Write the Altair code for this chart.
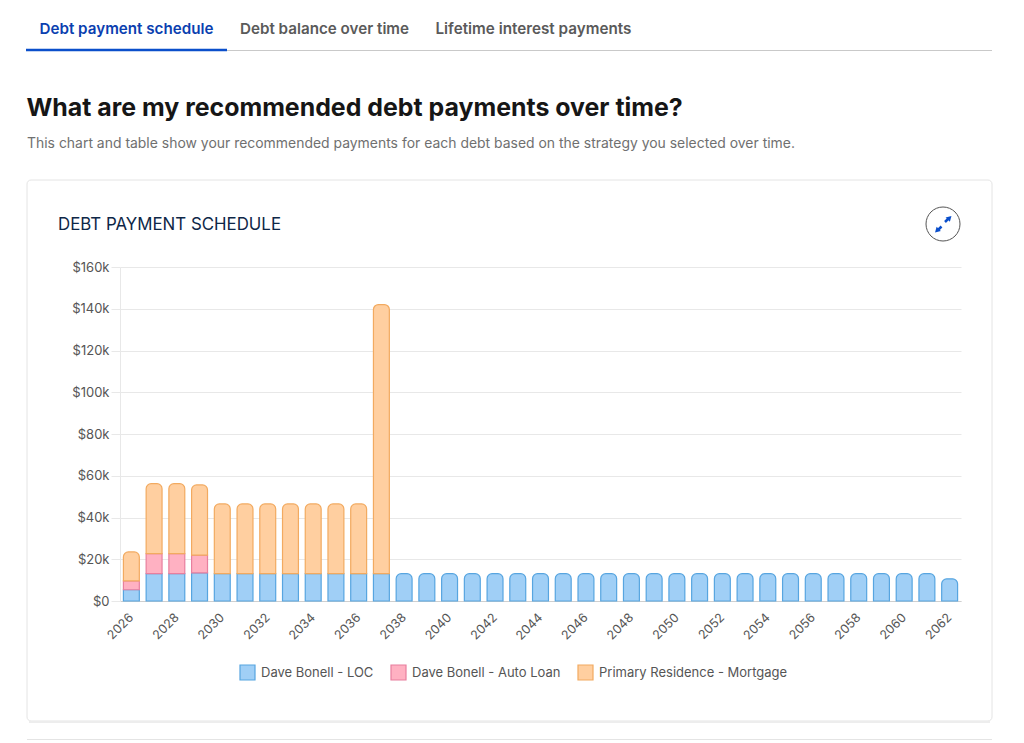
import altair as alt
import pandas as pd

# 차트 데이터 (단위: 달러)
years = list(range(2026, 2063))
loc_payments = [5400, 13100, 13100, 13500] + [13100] * 32 + [10600]
auto_payments = [4200, 9600, 9600, 8500] + [0] * 33
mortgage_payments = [13900, 33500, 33500, 33600] + [33400] * 7 + [128900] + [0] * 25
year_ticks = list(range(2026, 2063, 2))
y_ticks = [0, 20000, 40000, 60000, 80000, 100000, 120000, 140000, 160000]

series_names = ["Dave Bonell - LOC", "Dave Bonell - Auto Loan", "Primary Residence - Mortgage"]
fill_colors = ["#A0CFF6", "#FFB1C2", "#FFCFA0"]
stroke_colors = ["#57A5E0", "#E87F9E", "#F2AA60"]

# 플롯 영역 위치 (페이지 기준)
PLOT_LEFT, PLOT_TOP = 120, 267
PLOT_W, PLOT_H = 841, 334
FONT = "Inter"


def px(x):
    return alt.value(x - PLOT_LEFT)


def py(y):
    return alt.value(y - PLOT_TOP)


def page_text(txt, x, y, size, color, weight=400):
    return alt.Chart(pd.DataFrame({"t": [txt]})).mark_text(
        align="left", baseline="middle", font=FONT, fontSize=size, fontWeight=weight, color=color
    ).encode(x=px(x), y=py(y), text="t:N")


def page_rule(x1, y1, x2, y2, color, width=1):
    return alt.Chart(pd.DataFrame({"a": [0]})).mark_rule(color=color, strokeWidth=width).encode(
        x=px(x1), x2=px(x2), y=py(y1), y2=py(y2)
    )


def page_symbol(x, y, shape, size, angle=0, filled=True, color="#0B4FCB"):
    return alt.Chart(pd.DataFrame({"a": [0]})).mark_point(
        shape=shape, size=size, angle=angle, filled=filled, color=color, opacity=1, strokeWidth=1
    ).encode(x=px(x), y=py(y))


# 누적 막대용 테이블
rows = []
for i, year in enumerate(years):
    base = 0
    for name, values in zip(series_names, [loc_payments, auto_payments, mortgage_payments]):
        if values[i] > 0:
            rows.append({
                "year": year,
                "series": name,
                "base": base,
                "top": base + values[i],
                "is_top": i > 11 or name == series_names[2],
            })
        base += values[i]
df = pd.DataFrame(rows)

x_enc = alt.X(
    "year:O",
    title=None,
    scale=alt.Scale(paddingInner=0.3, paddingOuter=0.15),
    axis=alt.Axis(
        values=year_ticks, labelAngle=-45, labelAlign="right", labelBaseline="middle",
        labelFont=FONT, labelFontSize=12.5, labelColor="#555555", labelPadding=14,
        ticks=False, domainColor="#CFCFCF", grid=False,
    ),
)
y_enc = alt.Y(
    "base:Q",
    title=None,
    scale=alt.Scale(domain=[0, 160000], nice=False),
    axis=alt.Axis(
        values=y_ticks, labelExpr="datum.value == 0 ? '$0' : '$' + datum.value / 1000 + 'k'",
        labelFont=FONT, labelFontSize=13, labelColor="#555555", labelPadding=2,
        tickSize=9, tickColor="#E8E8E8", gridColor="#E8E8E8", domainColor="#E8E8E8",
    ),
)
legend = alt.Legend(
    orient="none", legendX=239 - PLOT_LEFT, legendY=664 - PLOT_TOP, direction="horizontal",
    columns=3, symbolType="square", symbolSize=225, symbolStrokeWidth=1.2, symbolOpacity=1,
    labelFont=FONT, labelFontSize=13, labelColor="#555555", labelOffset=5, labelLimit=260,
    columnPadding=14, gridAlign="none",
)
fill_enc = alt.Fill("series:N", title=None, legend=legend,
                    scale=alt.Scale(domain=series_names, range=fill_colors))
stroke_enc = alt.Stroke("series:N", title=None, legend=legend,
                        scale=alt.Scale(domain=series_names, range=stroke_colors))

bars = alt.Chart(df)
square_bars = bars.transform_filter("!datum.is_top").mark_bar(strokeWidth=1.2, opacity=1).encode(
    x=x_enc, y=y_enc, y2="top:Q", fill=fill_enc, stroke=stroke_enc
)
round_bars = bars.transform_filter("datum.is_top").mark_bar(
    strokeWidth=1.2, opacity=1, cornerRadiusTopLeft=5, cornerRadiusTopRight=5
).encode(x=x_enc, y=y_enc, y2="top:Q", fill=fill_enc, stroke=stroke_enc)

# 카드, 탭, 제목 등 주변 요소
card = alt.Chart(pd.DataFrame({"a": [0]})).mark_rect(
    filled=False, stroke="#E4E4E4", strokeWidth=1, cornerRadius=4
).encode(x=px(27), x2=px(992), y=py(180), y2=py(721))

chart = alt.layer(
    square_bars,
    round_bars,
    card,
    page_rule(29, 722, 990, 722, "#EDEDED", 2),
    page_rule(27, 739.5, 992, 739.5, "#E4E4E4"),
    page_rule(27, 50.5, 992, 50.5, "#C9C9C9"),
    page_rule(26, 50, 227, 50, "#0B4FCB", 2.5),
    page_text("Debt payment schedule", 39.5, 28.5, 15.2, "#0B3FB0", 600),
    page_text("Debt balance over time", 240, 28.5, 15.2, "#5A5A5A", 600),
    page_text("Lifetime interest payments", 435.5, 28.5, 15.25, "#5A5A5A", 600),
    page_text("What are my recommended debt payments over time?", 26.5, 108.5, 24.9, "#161616", 700),
    page_text(
        "This chart and table show your recommended payments for each debt based on the strategy you selected over time.",
        27, 143.5, 13.95, "#707070",
    ),
    page_text("DEBT PAYMENT SCHEDULE", 58, 224.5, 16.85, "#0E2747"),
    page_symbol(943, 224, "circle", 1156, filled=False, color="#555555"),
    page_rule(945, 222, 948, 219, "#0B4FCB", 2.5),
    page_rule(938.5, 229.5, 941.5, 226.5, "#0B4FCB", 2.5),
    page_symbol(949, 218.5, "triangle", 36, angle=45),
    page_symbol(937.5, 230, "triangle", 36, angle=225),
).properties(
    width=PLOT_W,
    height=PLOT_H,
    autosize=alt.AutoSizeParams(type="none"),
    padding={"left": PLOT_LEFT - 8, "top": PLOT_TOP - 8, "right": 1016 - PLOT_LEFT - PLOT_W, "bottom": 743 - PLOT_H - PLOT_TOP},
    background="white",
).configure_view(stroke=None)

chart.save("out.html", embed_options={"renderer": "svg", "actions": False})
